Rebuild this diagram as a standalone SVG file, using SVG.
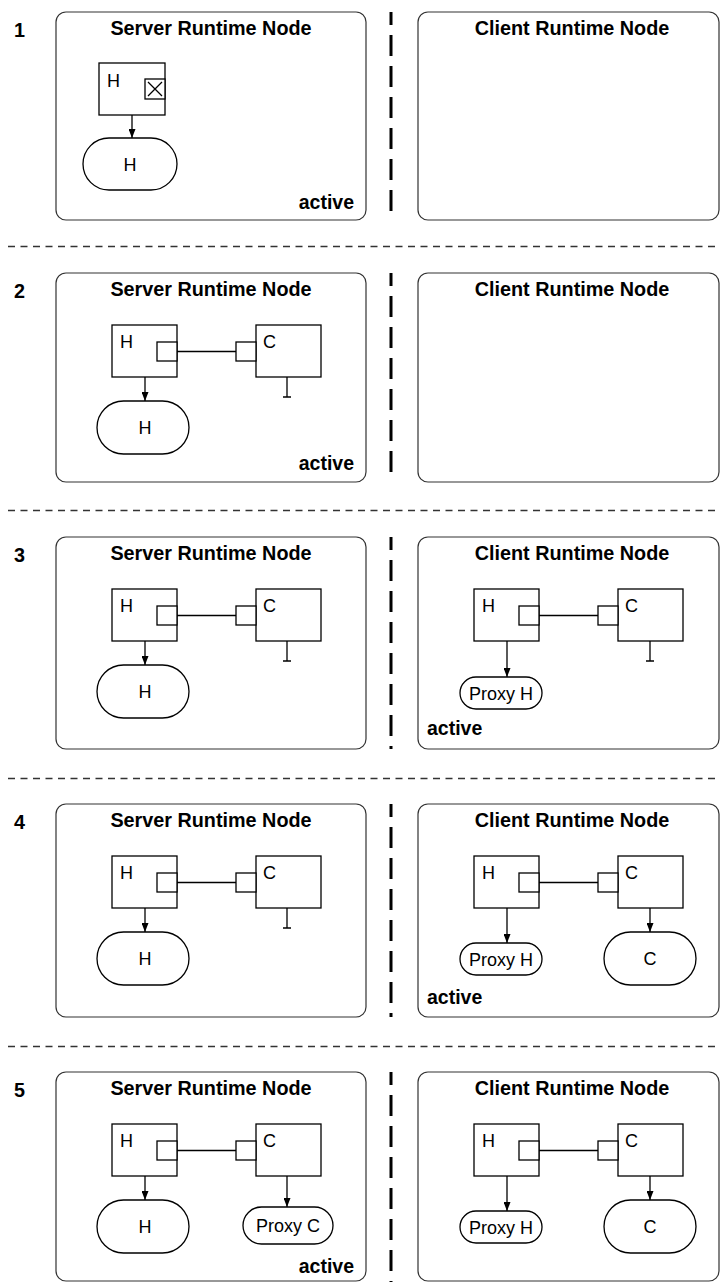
<svg xmlns="http://www.w3.org/2000/svg" width="720" height="1282" viewBox="0 0 720 1282">
  <style>
    .panel { fill: #fff; stroke: #333; stroke-width: 1.2; }
    .comp { fill: #fff; stroke: #000; stroke-width: 1.3; }
    .wire { fill: none; stroke: #000; stroke-width: 1.3; }
    .sep { fill: none; stroke: #333; stroke-width: 1.3; stroke-dasharray: 7 5.5; }
    .vsep { fill: none; stroke: #000; stroke-width: 3; stroke-dasharray: 21 10; stroke-dashoffset: 8; }
    .title { font-family: "Liberation Sans", Arial, sans-serif; font-weight: bold; font-size: 19.8px; text-anchor: middle; fill: #000; }
    .num { font-family: "Liberation Sans", Arial, sans-serif; font-weight: bold; font-size: 19.8px; fill: #000; }
    .state { font-family: "Liberation Sans", Arial, sans-serif; font-weight: bold; font-size: 19.5px; fill: #000; }
    .lbl { font-family: "Liberation Sans", Arial, sans-serif; font-size: 18px; fill: #000; }
    .mid { text-anchor: middle; }
  </style>
  <defs>
    <marker id="arrow" viewBox="0 0 9 7" refX="9" refY="3.5" markerWidth="9" markerHeight="7" markerUnits="userSpaceOnUse" orient="auto">
      <path d="M0,0 L9,3.5 L0,7 z" fill="#000"/>
    </marker>
  </defs>
  <rect width="720" height="1282" fill="#fff"/>

  <!-- separators between steps and between server/client columns -->
  <g id="separators">
    <line class="sep" x1="8" y1="246.5" x2="720" y2="246.5"/>
    <line class="sep" x1="8" y1="510.5" x2="720" y2="510.5"/>
    <line class="sep" x1="8" y1="778.5" x2="720" y2="778.5"/>
    <line class="sep" x1="8" y1="1046.5" x2="720" y2="1046.5"/>
    <line class="vsep" x1="391" y1="12" x2="391" y2="221"/>
    <line class="vsep" x1="391" y1="273" x2="391" y2="482"/>
    <line class="vsep" x1="391" y1="537" x2="391" y2="749"/>
    <line class="vsep" x1="391" y1="804" x2="391" y2="1017"/>
    <line class="vsep" x1="391" y1="1072" x2="391" y2="1282"/>
  </g>

  <!-- step numbers -->
  <g id="step-numbers">
    <text class="num" x="14" y="37">1</text>
    <text class="num" x="14" y="298">2</text>
    <text class="num" x="14" y="562">3</text>
    <text class="num" x="14" y="829">4</text>
    <text class="num" x="14" y="1097">5</text>
  </g>

  <!-- runtime node panels -->
  <g id="server-1"><rect class="panel" x="56" y="12" width="310" height="208" rx="10"/><text class="title" x="211" y="35">Server Runtime Node</text><text class="state" x="354" y="209" text-anchor="end">active</text></g>
  <g id="client-1"><rect class="panel" x="418" y="12" width="301" height="208" rx="10"/><text class="title" x="572" y="35">Client Runtime Node</text></g>
  <g id="server-2"><rect class="panel" x="56" y="273" width="310" height="209" rx="10"/><text class="title" x="211" y="296">Server Runtime Node</text><text class="state" x="354" y="470" text-anchor="end">active</text></g>
  <g id="client-2"><rect class="panel" x="418" y="273" width="301" height="209" rx="10"/><text class="title" x="572" y="296">Client Runtime Node</text></g>
  <g id="server-3"><rect class="panel" x="56" y="537" width="310" height="212" rx="10"/><text class="title" x="211" y="560">Server Runtime Node</text></g>
  <g id="client-3"><rect class="panel" x="418" y="537" width="301" height="212" rx="10"/><text class="title" x="572" y="560">Client Runtime Node</text><text class="state" x="427" y="735">active</text></g>
  <g id="server-4"><rect class="panel" x="56" y="804" width="310" height="213" rx="10"/><text class="title" x="211" y="827">Server Runtime Node</text></g>
  <g id="client-4"><rect class="panel" x="418" y="804" width="301" height="213" rx="10"/><text class="title" x="572" y="827">Client Runtime Node</text><text class="state" x="427" y="1004">active</text></g>
  <g id="server-5"><rect class="panel" x="56" y="1072" width="310" height="209" rx="10"/><text class="title" x="211" y="1095">Server Runtime Node</text><text class="state" x="354" y="1273" text-anchor="end">active</text></g>
  <g id="client-5"><rect class="panel" x="418" y="1072" width="301" height="209" rx="10"/><text class="title" x="572" y="1095">Client Runtime Node</text></g>

  <!-- step 1: host component with closed port -->
  <g id="s1-host">
    <rect class="comp" x="99" y="63" width="66" height="52"/>
    <text class="lbl" x="107" y="87">H</text>
    <rect class="comp" x="145" y="79" width="20" height="20"/>
    <path class="wire" d="M148,82 L162,96 M162,82 L148,96"/>
  </g>
  <g id="s1-host-inst"><rect class="comp" x="83" y="138" width="94" height="52" rx="26"/><text class="lbl mid" x="130" y="170.5">H</text></g>

  <!-- step 2 -->
  <g id="s2-host"><rect class="comp" x="112" y="325" width="65" height="52"/><text class="lbl" x="120" y="348">H</text><rect class="comp" x="157" y="342" width="20" height="19"/></g>
  <g id="s2-client"><rect class="comp" x="256" y="325" width="65" height="52"/><text class="lbl" x="263" y="348">C</text><rect class="comp" x="236" y="342" width="20" height="19"/></g>
  <g id="s2-host-inst"><rect class="comp" x="97" y="401" width="92" height="53" rx="26.5"/><text class="lbl mid" x="145" y="434">H</text></g>

  <!-- step 3 -->
  <g id="s3-host"><rect class="comp" x="112" y="589" width="65" height="52"/><text class="lbl" x="120" y="612">H</text><rect class="comp" x="157" y="606" width="20" height="19"/></g>
  <g id="s3-client"><rect class="comp" x="256" y="589" width="65" height="52"/><text class="lbl" x="263" y="612">C</text><rect class="comp" x="236" y="606" width="20" height="19"/></g>
  <g id="s3-host-inst"><rect class="comp" x="97" y="665" width="92" height="53" rx="26.5"/><text class="lbl mid" x="145" y="698">H</text></g>
  <g id="s3-c-host"><rect class="comp" x="474" y="589" width="65" height="52"/><text class="lbl" x="482" y="612">H</text><rect class="comp" x="519" y="606" width="20" height="19"/></g>
  <g id="s3-c-client"><rect class="comp" x="618" y="589" width="65" height="52"/><text class="lbl" x="625" y="612">C</text><rect class="comp" x="598" y="606" width="20" height="19"/></g>
  <g id="s3-c-proxy-h"><rect class="comp" x="460" y="677" width="82" height="32" rx="16"/><text class="lbl mid" x="501" y="699.5">Proxy H</text></g>

  <!-- step 4 -->
  <g id="s4-host"><rect class="comp" x="112" y="856" width="65" height="52"/><text class="lbl" x="120" y="879">H</text><rect class="comp" x="157" y="873" width="20" height="19"/></g>
  <g id="s4-client"><rect class="comp" x="256" y="856" width="65" height="52"/><text class="lbl" x="263" y="879">C</text><rect class="comp" x="236" y="873" width="20" height="19"/></g>
  <g id="s4-host-inst"><rect class="comp" x="97" y="932" width="92" height="53" rx="26.5"/><text class="lbl mid" x="145" y="965">H</text></g>
  <g id="s4-c-host"><rect class="comp" x="474" y="856" width="65" height="52"/><text class="lbl" x="482" y="879">H</text><rect class="comp" x="519" y="873" width="20" height="19"/></g>
  <g id="s4-c-client"><rect class="comp" x="618" y="856" width="65" height="52"/><text class="lbl" x="625" y="879">C</text><rect class="comp" x="598" y="873" width="20" height="19"/></g>
  <g id="s4-c-proxy-h"><rect class="comp" x="460" y="943" width="82" height="32" rx="16"/><text class="lbl mid" x="501" y="965.5">Proxy H</text></g>
  <g id="s4-c-client-inst"><rect class="comp" x="604" y="932" width="92" height="53" rx="26.5"/><text class="lbl mid" x="650" y="965">C</text></g>

  <!-- step 5 -->
  <g id="s5-host"><rect class="comp" x="112" y="1124" width="65" height="52"/><text class="lbl" x="120" y="1147">H</text><rect class="comp" x="157" y="1141" width="20" height="19"/></g>
  <g id="s5-client"><rect class="comp" x="256" y="1124" width="65" height="52"/><text class="lbl" x="263" y="1147">C</text><rect class="comp" x="236" y="1141" width="20" height="19"/></g>
  <g id="s5-host-inst"><rect class="comp" x="97" y="1200" width="92" height="53" rx="26.5"/><text class="lbl mid" x="145" y="1233">H</text></g>
  <g id="s5-proxy-c"><rect class="comp" x="243" y="1207" width="90" height="37" rx="18.5"/><text class="lbl mid" x="288" y="1232">Proxy C</text></g>
  <g id="s5-c-host"><rect class="comp" x="474" y="1124" width="65" height="52"/><text class="lbl" x="482" y="1147">H</text><rect class="comp" x="519" y="1141" width="20" height="19"/></g>
  <g id="s5-c-client"><rect class="comp" x="618" y="1124" width="65" height="52"/><text class="lbl" x="625" y="1147">C</text><rect class="comp" x="598" y="1141" width="20" height="19"/></g>
  <g id="s5-c-proxy-h"><rect class="comp" x="460" y="1211" width="82" height="32" rx="16"/><text class="lbl mid" x="501" y="1233.5">Proxy H</text></g>
  <g id="s5-c-client-inst"><rect class="comp" x="604" y="1200" width="92" height="53" rx="26.5"/><text class="lbl mid" x="650" y="1233">C</text></g>

  <!-- connectors: port wires, instantiation arrows, unbound stubs -->
  <g id="connectors">
    <line class="wire" x1="132" y1="115" x2="132" y2="138" marker-end="url(#arrow)"/>

    <line class="wire" x1="177" y1="351.5" x2="236" y2="351.5"/>
    <line class="wire" x1="145" y1="377" x2="145" y2="401" marker-end="url(#arrow)"/>
    <path class="wire" d="M287,377 V397 M283,397 H291"/>

    <line class="wire" x1="177" y1="615.5" x2="236" y2="615.5"/>
    <line class="wire" x1="145" y1="641" x2="145" y2="665" marker-end="url(#arrow)"/>
    <path class="wire" d="M287,641 V661 M283,661 H291"/>
    <line class="wire" x1="539" y1="615.5" x2="598" y2="615.5"/>
    <line class="wire" x1="507" y1="641" x2="507" y2="677" marker-end="url(#arrow)"/>
    <path class="wire" d="M650,641 V661 M646,661 H654"/>

    <line class="wire" x1="177" y1="882.5" x2="236" y2="882.5"/>
    <line class="wire" x1="145" y1="908" x2="145" y2="932" marker-end="url(#arrow)"/>
    <path class="wire" d="M287,908 V928 M283,928 H291"/>
    <line class="wire" x1="539" y1="882.5" x2="598" y2="882.5"/>
    <line class="wire" x1="507" y1="908" x2="507" y2="943" marker-end="url(#arrow)"/>
    <line class="wire" x1="650" y1="908" x2="650" y2="932" marker-end="url(#arrow)"/>

    <line class="wire" x1="177" y1="1150.5" x2="236" y2="1150.5"/>
    <line class="wire" x1="145" y1="1176" x2="145" y2="1200" marker-end="url(#arrow)"/>
    <line class="wire" x1="287" y1="1176" x2="287" y2="1207" marker-end="url(#arrow)"/>
    <line class="wire" x1="539" y1="1150.5" x2="598" y2="1150.5"/>
    <line class="wire" x1="507" y1="1176" x2="507" y2="1211" marker-end="url(#arrow)"/>
    <line class="wire" x1="650" y1="1176" x2="650" y2="1200" marker-end="url(#arrow)"/>
  </g>
</svg>
